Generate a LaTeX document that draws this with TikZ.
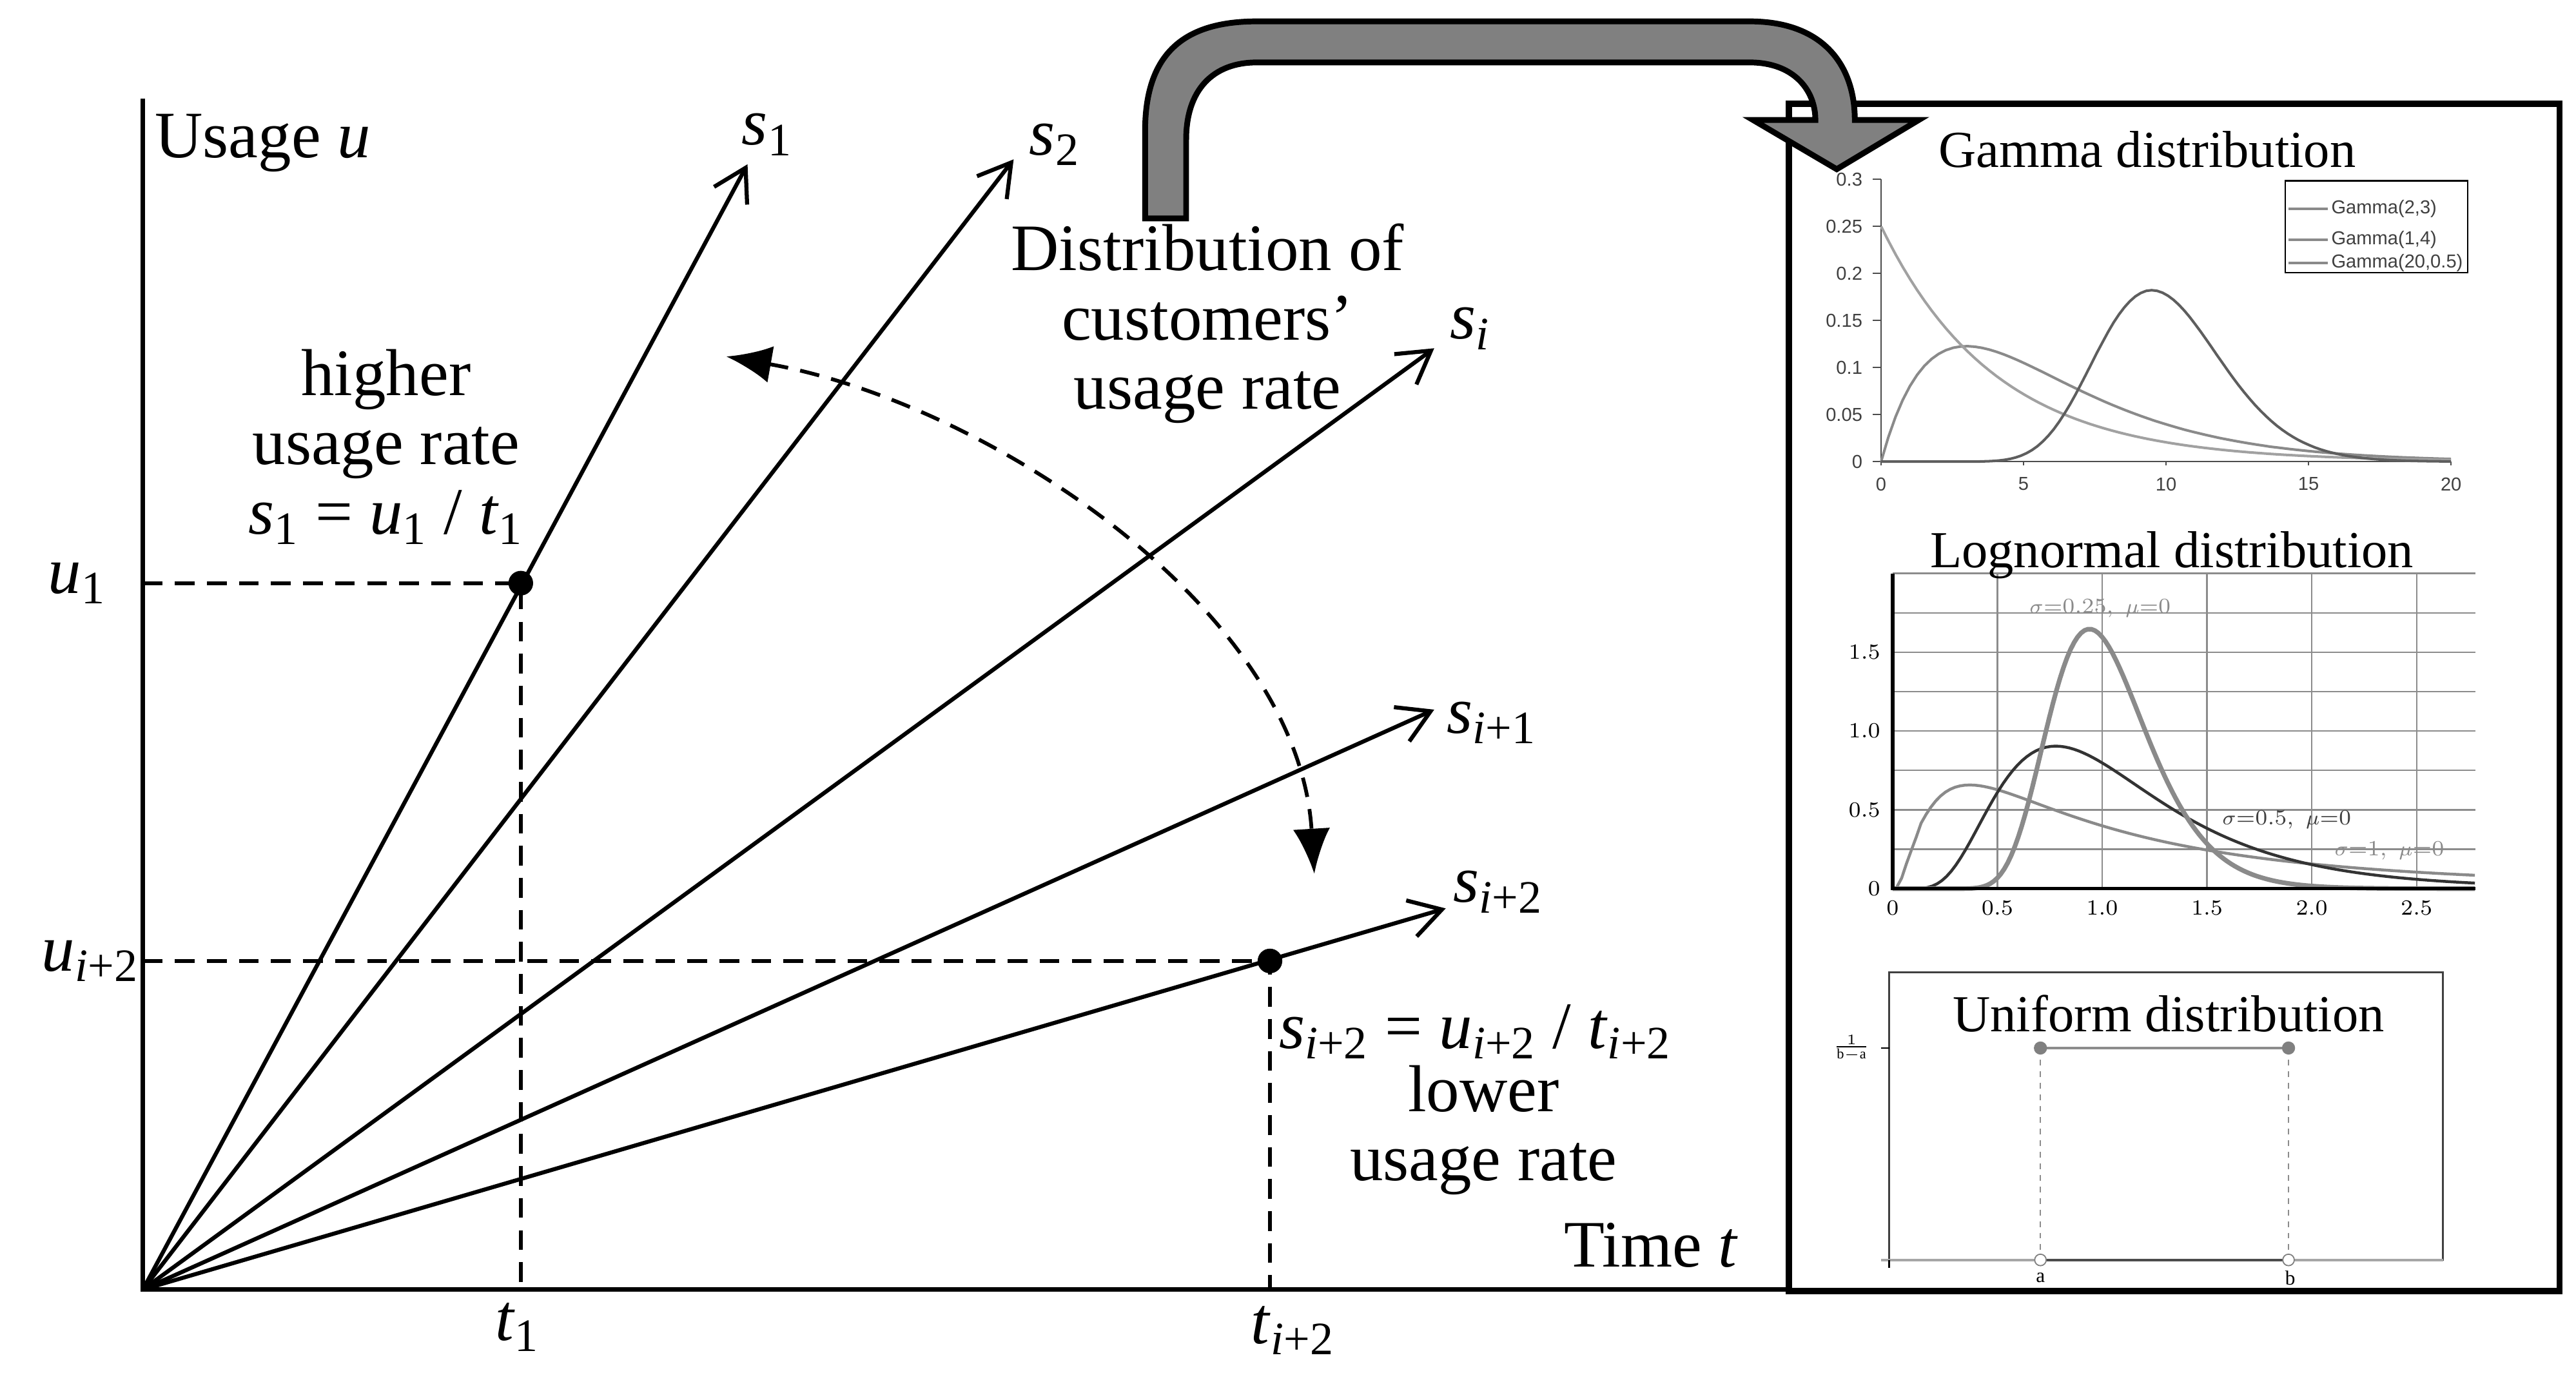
\documentclass[tikz,border=0pt]{standalone}
\usepackage{fontspec}
\setmainfont{Liberation Serif}
\newfontfamily\sansf{Liberation Sans}
\newfontfamily\lmf{Latin Modern Roman}
\usetikzlibrary{arrows.meta}
\definecolor{arrowgray}{HTML}{808080}
\definecolor{curvegray}{HTML}{8A8A8A}
\definecolor{curvedark}{HTML}{5E5E5E}
\begin{document}
\begin{tikzpicture}[x=0.02cm,y=-0.02cm,
  big/.style={font=\fontsize{23}{27}\selectfont},
  ray/.style={line width=1.4pt,-{Straight Barb[length=11pt,width=13pt,line width=1.4pt]}},
  guide/.style={line width=1.3pt,dash pattern=on 0.24cm off 0.15cm},
  axis/.style={line width=1.5pt},
  dot/.style={circle,fill=black,inner sep=0pt,minimum size=0.3cm},
  tick/.style={font=\sansf\fontsize{6.5}{7}\selectfont,text=black!75},
  lmtick/.style={font=\lmf\fontsize{7.5}{8}\selectfont},
  title/.style={font=\fontsize{18}{21}\selectfont}]
\useasboundingbox (0,0) rectangle (1568,840);
% axes
\coordinate (O) at (87,785);
\coordinate (Ytop) at (87,60);
\coordinate (Xend) at (1089,785);
\draw[axis] (Ytop) -- (O) -- (Xend);
% panel
\coordinate (P1) at (1089,63);
\coordinate (P2) at (1558,786);
\draw[line width=2.2pt] (P1) rectangle (P2);
% rays
\coordinate (T1) at (455,100);
\coordinate (T2) at (617,97);
\coordinate (Ti) at (873,212);
\coordinate (Ti1) at (873,432);
\coordinate (Ti2) at (880,553);
\foreach \t in {T1,T2,Ti,Ti1,Ti2} \draw[ray] (O) -- (\t);
% ray labels
\node[big] (ls1) at (467,82) {\textit{s}\textsubscript{1}};
\node[big] (ls2) at (642,88) {\textit{s}\textsubscript{2}};
\node[big] (lsi) at (895,200) {\textit{s\textsubscript{i}}};
\node[big] (lsi1) at (908,440) {\textit{s}\textsubscript{\textit{i}+1}};
\node[big] (lsi2) at (912,543) {\textit{s}\textsubscript{\textit{i}+2}};
% points and guides
\node[dot] (D1) at (317,355) {};
\node[dot] (D2) at (773,585) {};
\coordinate (U1) at (87,355);
\coordinate (B1) at (317,785);
\coordinate (U2) at (87,585);
\coordinate (B2) at (773,785);
\draw[guide] (U1) -- (D1.center) -- (B1);
\draw[guide] (U2) -- (D2.center) -- (B2);
\node[big] (lu1) at (47,355) {\textit{u}\textsubscript{1}};
\node[big] (lu2) at (55,585) {\textit{u}\textsubscript{\textit{i}+2}};
\node[big] (lt1) at (315,808) {\textit{t}\textsubscript{1}};
\node[big] (lt2) at (787,810) {\textit{t}\textsubscript{\textit{i}+2}};
\node[big] (lu) at (160,87) {Usage \textit{u}};
\node[big] (lt) at (1005,758) {Time \textit{t}};
\node[big,align=center] (hi) at (235,272) {higher\\[-3pt]usage rate\\[-3pt]\textit{s}\textsubscript{1} = \textit{u}\textsubscript{1} / \textit{t}\textsubscript{1}};
\node[big,align=center] (dist) at (735,197) {Distribution of\\[-3pt]customers'\\[-3pt]usage rate};
\node[big] (eq2) at (898,628) {\textit{s}\textsubscript{\textit{i}+2} = \textit{u}\textsubscript{\textit{i}+2} / \textit{t}\textsubscript{\textit{i}+2}};
\node[big,align=center] (lo) at (903,688) {lower\\[-3pt]usage rate};
% dashed curved arrow
\coordinate (A1) at (442,217);
\coordinate (A2) at (800,532);
\draw[guide,{Latex[length=0.55cm,width=0.45cm]}-{Latex[length=0.55cm,width=0.45cm]}] (A1) .. controls (600,245) and (790,370) .. (A2);
% big arrow
\draw[fill=arrowgray,line width=2pt,line join=miter]
 (697,133) -- (697,80) .. controls (697,35) and (718,13) .. (765,13) -- (1065,13)
 .. controls (1110,13) and (1129,40) .. (1129,73) -- (1168,73) -- (1118,103) -- (1067,73) -- (1105,73)
 .. controls (1105,55) and (1092,38) .. (1065,38) -- (765,38) .. controls (738,38) and (722,55) .. (722,85) -- (722,133) -- cycle;
% ---------- Gamma ----------
\node[title] (gt) at (1307,91) {Gamma distribution};
\begin{scope}[shift={(1145,281)},x=0.347cm,y=11.46cm]
  \draw[black!70,line width=0.5pt] (0,0.3) -- (0,0) -- (20,0);
  \foreach \v/\l in {0/0,0.05/0.05,0.1/0.1,0.15/0.15,0.2/0.2,0.25/0.25,0.3/0.3}
    {\draw[black!70,line width=0.5pt] (0,\v) -- (-0.3,\v); \node[tick,anchor=east] (gy\l) at (-0.3,\v) {\l};}
  \foreach \v in {0,5,10,15,20}
    {\draw[black!70,line width=0.5pt] (\v,0) -- (\v,-0.004); \node[tick,anchor=north] (gx\v) at (\v,-0.006) {\v};}
  \draw[curvegray,line width=0.9pt] plot[domain=0:20,samples=80] (\x,{\x*exp(-\x/3)/9});
  \draw[curvegray!80,line width=0.9pt] plot[domain=0:20,samples=80] (\x,{exp(-\x/4)/4});
  \draw[curvedark,line width=0.9pt] (0,0) -- (3,0) -- plot[domain=3:20,samples=90] (\x,{exp(19*ln(\x)-2*\x-25.477)});
\end{scope}
\draw[line width=0.6pt] (1391,110) rectangle (1502,166);
\foreach \y/\t in {127/{Gamma(2,3)},146/{Gamma(1,4)},160/{Gamma(20,0.5)}}{
  \draw[curvegray,line width=0.9pt] (1393,\y) -- (1417,\y);
  \node[tick,anchor=west,inner sep=1pt] at (1417,\y) {\t};}
% ---------- Lognormal ----------
\begin{scope}[shift={(1152,541)},x=2.552cm,y=1.92cm]
  \foreach \v in {0.25,0.5,...,2.0} \draw[black!45,line width=0.5pt] (0,\v) -- (2.78,\v);
  \foreach \v in {0.5,1.0,...,2.5} \draw[black!45,line width=0.5pt] (\v,0) -- (\v,2.0);
  \draw[curvegray,line width=1pt] plot[domain=0.02:2.78,samples=120] (\x,{exp(-(ln(\x))^2/2)/(\x*2.5066)});
  \draw[black!80,line width=1pt] (0,0) -- (0.1,0) -- plot[domain=0.1:2.78,samples=120] (\x,{exp(-(ln(\x))^2/0.5)/(\x*0.5*2.5066)});
  \draw[curvegray,line width=1.6pt] (0,0) -- (0.3,0) -- plot[domain=0.3:2.78,samples=150] (\x,{exp(-(ln(\x))^2/0.125)/(\x*0.25*2.5066)});
  \draw[line width=1.2pt] (0,2.0) -- (0,0) -- (2.78,0);
  \foreach \v/\l in {0/0,0.5/0.5,1.0/1.0,1.5/1.5} \node[lmtick,anchor=east] (ly\l) at (-0.01,\v) {\l};
  \foreach \v/\l in {0/0,0.5/0.5,1.0/1.0,1.5/1.5,2.0/2.0,2.5/2.5} \node[lmtick,anchor=north] (lx\l) at (\v,-0.01) {\l};
  \node[lmtick,text=curvegray] (sa) at (0.99,1.78) {$\sigma$=0.25,\, $\mu$=0};
  \node[lmtick,text=black!75] (sb) at (1.88,0.44) {$\sigma$=0.5,\, $\mu$=0};
  \node[lmtick,text=curvegray] (sc) at (2.37,0.24) {$\sigma$=1,\, $\mu$=0};
\end{scope}
\node[title] (lgt) at (1322,338) {Lognormal distribution};
% ---------- Uniform ----------
\draw[black!75,line width=0.6pt] (1150,592) rectangle (1487,767);
\node[title] (ut) at (1320,617) {Uniform distribution};
\coordinate (Ua) at (1242,767);
\coordinate (Ub) at (1393,767);
\coordinate (Ta) at (1242,638);
\coordinate (Tb) at (1393,638);
\draw[black!35,line width=0.8pt] (1145,767) -- (Ua);
\draw[black!35,line width=0.8pt] (Ub) -- (1487,767);
\draw[black!70,line width=0.8pt] (Ua) -- (Ub);
\draw[black!45,line width=1pt] (Ta) -- (Tb);
\draw[black!45,line width=0.4pt,dash pattern=on 2pt off 2pt] (Ta) -- (Ua) (Tb) -- (Ub);
\draw[black,line width=0.6pt] (1145,638) -- (1150,638) (1150,767) -- (1150,772);
\fill[black!50] (Ta) circle (0.08cm) (Tb) circle (0.08cm);
\draw[black!50,fill=white,line width=0.4pt] (Ua) circle (0.07cm) (Ub) circle (0.07cm);
\node[font=\fontsize{6}{7}\selectfont] (fr) at (1127,638) {$\frac{1}{\mathrm{b-a}}$};
\node[font=\fontsize{7}{8}\selectfont] (la) at (1242,778) {a};
\node[font=\fontsize{7}{8}\selectfont] (lb) at (1394,778) {b};
\end{tikzpicture}
\end{document}
